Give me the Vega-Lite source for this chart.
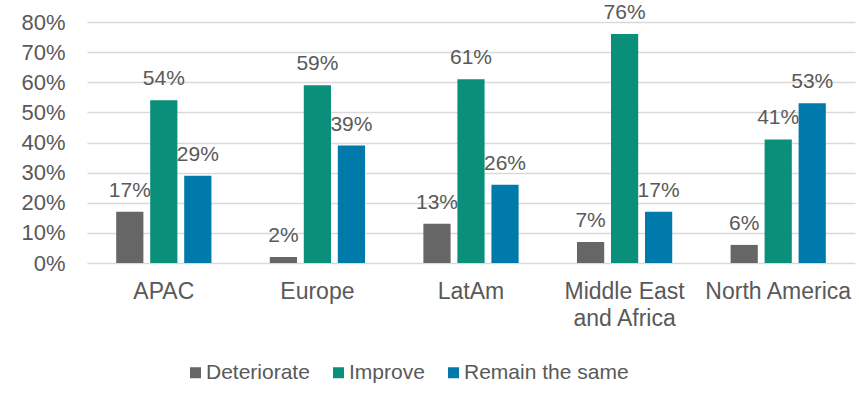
{
  "$schema": "https://vega.github.io/schema/vega-lite/v6.json",
  "width": 768,
  "height": 241,
  "autosize": {"type": "none"},
  "padding": {"left": 87, "top": 22, "right": 4, "bottom": 141},
  "background": "white",
  "config": {
    "font": "Liberation Sans",
    "view": {"stroke": null}
  },
  "data": {
    "values": [
      {"region": "APAC", "outlook": "Deteriorate", "value": 0.17},
      {"region": "APAC", "outlook": "Improve", "value": 0.54},
      {"region": "APAC", "outlook": "Remain the same", "value": 0.29},
      {"region": "Europe", "outlook": "Deteriorate", "value": 0.02},
      {"region": "Europe", "outlook": "Improve", "value": 0.59},
      {"region": "Europe", "outlook": "Remain the same", "value": 0.39},
      {"region": "LatAm", "outlook": "Deteriorate", "value": 0.13},
      {"region": "LatAm", "outlook": "Improve", "value": 0.61},
      {"region": "LatAm", "outlook": "Remain the same", "value": 0.26},
      {"region": "Middle East and Africa", "outlook": "Deteriorate", "value": 0.07},
      {"region": "Middle East and Africa", "outlook": "Improve", "value": 0.76},
      {"region": "Middle East and Africa", "outlook": "Remain the same", "value": 0.17},
      {"region": "North America", "outlook": "Deteriorate", "value": 0.06},
      {"region": "North America", "outlook": "Improve", "value": 0.41},
      {"region": "North America", "outlook": "Remain the same", "value": 0.53}
    ]
  },
  "encoding": {
    "x": {
      "field": "region",
      "type": "nominal",
      "sort": null,
      "scale": {"paddingInner": 0.38, "paddingOuter": 0.19},
      "axis": {
        "title": null,
        "labelAngle": 0,
        "ticks": false,
        "domain": false,
        "labelFontSize": 23,
        "labelColor": "#595959",
        "labelPadding": 17,
        "labelLineHeight": 27,
        "labelLimit": 300,
        "labelExpr": "datum.value == 'Middle East and Africa' ? ['Middle East', 'and Africa'] : datum.value"
      }
    },
    "xOffset": {
      "field": "outlook",
      "type": "nominal",
      "sort": ["Deteriorate", "Improve", "Remain the same"],
      "scale": {"paddingInner": 0.2, "paddingOuter": 0}
    },
    "y": {
      "field": "value",
      "type": "quantitative",
      "scale": {"domain": [0, 0.8], "nice": false},
      "axis": {
        "title": null,
        "format": ".0%",
        "values": [0, 0.1, 0.2, 0.3, 0.4, 0.5, 0.6, 0.7, 0.8],
        "ticks": false,
        "domain": false,
        "labelFontSize": 22,
        "labelColor": "#595959",
        "labelPadding": 22,
        "gridColor": "#d9d9d9",
        "gridWidth": 1.5
      }
    }
  },
  "layer": [
    {
      "mark": {"type": "bar"},
      "encoding": {
        "color": {
          "field": "outlook",
          "type": "nominal",
          "sort": ["Deteriorate", "Improve", "Remain the same"],
          "scale": {
            "domain": ["Deteriorate", "Improve", "Remain the same"],
            "range": ["#666666", "#0a8f7a", "#007aaa"]
          },
          "legend": {
            "title": null,
            "orient": "none",
            "direction": "horizontal",
            "legendX": 98,
            "legendY": 340,
            "symbolType": "square",
            "symbolSize": 121,
            "symbolStrokeWidth": 0,
            "labelFontSize": 21,
            "labelColor": "#595959",
            "labelOffset": 0,
            "labelLimit": 400,
            "columnPadding": 18,
            "padding": 0
          }
        }
      }
    },
    {
      "mark": {"type": "text", "baseline": "alphabetic", "dy": -15, "fontSize": 21, "color": "#595959"},
      "encoding": {
        "text": {"field": "value", "type": "quantitative", "format": ".0%"}
      }
    }
  ]
}
